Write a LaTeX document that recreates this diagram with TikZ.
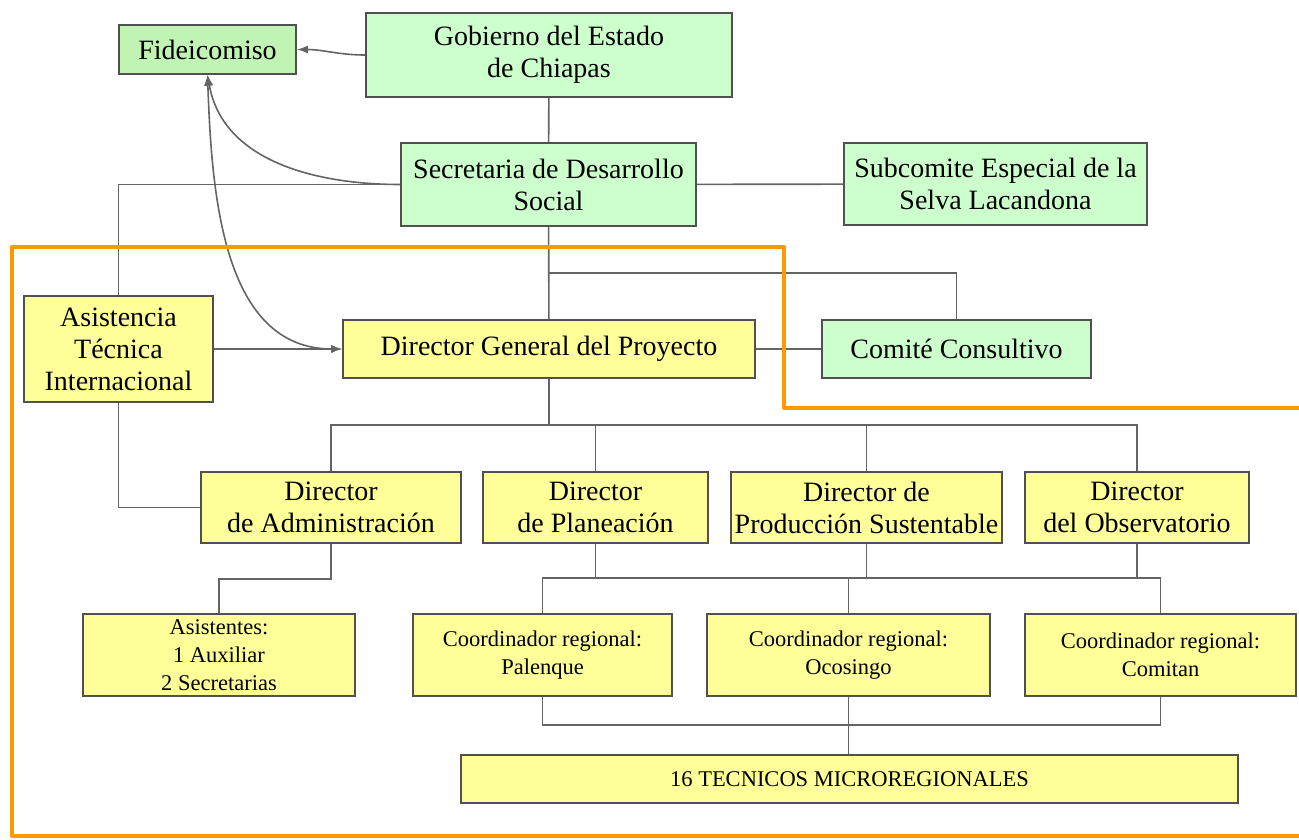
\documentclass[tikz,border=0pt]{standalone}
\usepackage{fontspec}
\setmainfont{Liberation Serif}
\usetikzlibrary{arrows.meta}
\definecolor{boxgreen}{RGB}{204,255,204}
\definecolor{fidgreen}{RGB}{193,243,180}
\definecolor{boxyellow}{RGB}{255,255,153}
\definecolor{boxline}{RGB}{80,80,80}
\definecolor{linkgray}{RGB}{100,100,100}
\definecolor{frameorange}{RGB}{255,153,0}

\begin{document}
\begin{tikzpicture}[x=1pt, y=-1pt, >={Latex[length=11pt,width=8pt]},
    box/.style={rectangle, draw=boxline, line width=1.6pt, inner sep=0pt, align=center},
    green node/.style={box, fill=boxgreen, font=\fontsize{28}{32}\selectfont},
    yellow node/.style={box, fill=boxyellow, font=\fontsize{28}{32}\selectfont},
    small node/.style={box, fill=boxyellow, font=\fontsize{22.5}{28}\selectfont},
    link/.style={color=linkgray, line width=1.6pt}]

                \useasboundingbox (0,0) rectangle (1299,839);

                \node[green node, fill=fidgreen, minimum width=177pt, minimum height=49pt] at (207.5, 49.5) (fid) {Fideicomiso};
                \node[green node, minimum width=366pt, minimum height=84pt] at (549, 55) (gob) {Gobierno del Estado\\de Chiapas};
                \node[green node, minimum width=295pt, minimum height=83pt] at (548.5, 184.5) (sec) {Secretaria de Desarrollo\\Social};
                \node[green node, minimum width=303pt, minimum height=82pt] at (995.5, 184) (sub) {Subcomite Especial de la\\Selva Lacandona};
                \node[yellow node, minimum width=189pt, minimum height=106pt] at (118.5, 349) (ati) {Asistencia\\Técnica\\Internacional};
                \node[yellow node, minimum width=412pt, minimum height=58pt] at (549, 349) (dgp) {Director General del Proyecto};
                \node[green node, minimum width=269pt, minimum height=58pt] at (956.5, 349) (cc) {Comité Consultivo};

                \node[yellow node, minimum width=260pt, minimum height=71pt] at (331, 507.5) (dadm) {Director\\de Administración};
                \node[yellow node, minimum width=225pt, minimum height=71pt] at (595.5, 507.5) (dpla) {Director\\de Planeación};
                \node[yellow node, minimum width=271pt, minimum height=71pt] at (866.5, 507.5) (dpro) {Director de\\Producción Sustentable};
                \node[yellow node, minimum width=224pt, minimum height=71pt] at (1137, 507.5) (dobs) {Director\\del Observatorio};

                \node[small node, minimum width=272pt, minimum height=82pt] at (219, 655) (asis) {Asistentes:\\1 Auxiliar\\2 Secretarias};
                \node[small node, minimum width=259pt, minimum height=82pt] at (542.5, 655) (cpal) {Coordinador regional:\\Palenque};
                \node[small node, minimum width=283pt, minimum height=82pt] at (848.5, 655) (coco) {Coordinador regional:\\Ocosingo};
                \node[small node, minimum width=271pt, minimum height=82pt] at (1160.5, 655) (ccom) {Coordinador regional:\\Comitan};
                \node[small node, minimum width=777pt, minimum height=48pt] at (849.5, 779) (tec) {16 TECNICOS MICROREGIONALES};

                \coordinate (j1) at (549, 273);
                \coordinate (j2) at (549, 425);
                \coordinate (bus) at (0, 578);
                \coordinate (bus2) at (0, 725);

                % upper part
                \draw[link] (gob) -- (sec);
                \draw[link] (sec) -- (sub);
                \draw[link] (sec.west) -| (ati.north);
                \draw[link] (sec) -- (dgp);
                \draw[link] (j1) -| (cc.north);
                \draw[link] (dgp) -- (cc);
                \path[link, ->] (gob.west) edge[out=180, in=0] (fid.east);
                \path[link, ->] (sec.west) edge[out=180, in=-80] (fid.south);
                \path[link, <->] (fid.south) edge[out=-88, in=180] (dgp.west);
                \path[link, ->] (ati) edge[] (dgp);

                % directors
                \draw[link] (dgp.south) -- (j2);
                \draw[link] (dadm.north) |- (j2) -| (dobs.north);
                \draw[link] (dpla.north) -- (dpla.north |- j2);
                \draw[link] (dpro.north) -- (dpro.north |- j2);
                \draw[link] (ati.south) |- (dadm.west);

                % coordinators
                \draw[link] (dadm.south) -- ++(0, 35) -| (asis.north);
                \draw[link] (cpal.north) |- (bus -| ccom.north) -- (ccom.north);
                \draw[link] (dpla.south) -- (dpla.south |- bus);
                \draw[link] (dpro.south) -- (dpro.south |- bus);
                \draw[link] (dobs.south) -- (dobs.south |- bus);
                \draw[link] (coco.north) -- (coco.north |- bus);
                \draw[link] (cpal.south) |- (bus2 -| ccom.south) -- (ccom.south);
                \draw[link] (coco.south) -- (coco.south |- tec.north);

                \draw[frameorange, line width=4pt, line join=round] (1299, 408) -- (784, 408) -- (784, 247) -- (12, 247) -- (12, 836) -- (1299, 836);
            \end{tikzpicture}
\end{document}
